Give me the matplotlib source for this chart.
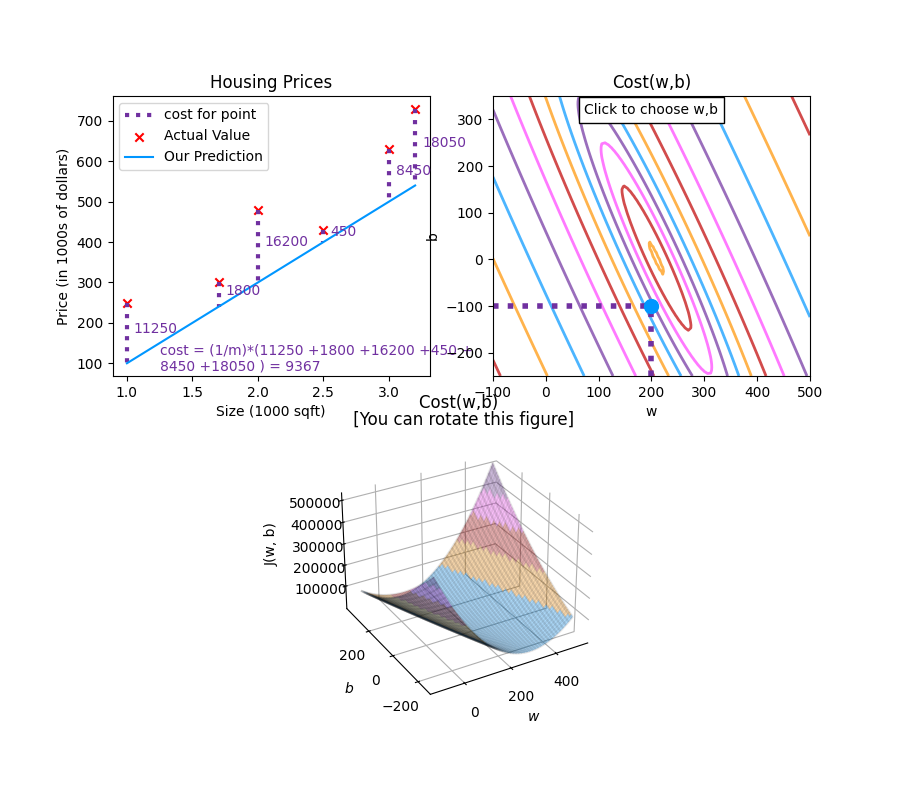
import numpy as np
import matplotlib
matplotlib.use("Agg")
import matplotlib.pyplot as plt
from matplotlib.colors import LinearSegmentedColormap
from matplotlib.gridspec import GridSpec

dlblue = '#0096ff'
dlorange = '#FF9300'
dldarkred = '#C00000'
dlmagenta = '#FF40FF'
dlpurple = '#7030A0'
dlcolors = [dlblue, dlorange, dldarkred, dlmagenta, dlpurple]
dlcm = LinearSegmentedColormap.from_list('dl_map', dlcolors, N=5)

x_train = [1.0, 1.7, 2.0, 2.5, 3.0, 3.2]
y_train = [250, 300, 480, 430, 630, 730]
y_pred = [100, 240, 300, 400, 500, 540]
point_costs = [11250, 1800, 16200, 450, 8450, 18050]
cost_text = "cost = (1/m)*(11250 +1800 +16200 +450 +\n8450 +18050 ) = 9367"
z_ticks = [100000, 200000, 300000, 400000, 500000]

w0 = 200
b0 = -100
w_range = [-100, 500]
b_range = [-250, 350]


def cost_grid():
    # the surface and contours are the cost of the training points over w,b
    x = np.array(x_train)
    y = np.array(y_train)
    w_space = np.linspace(w_range[0], w_range[1], 100)
    b_space = np.linspace(b_range[0], b_range[1], 100)
    tmp_b, tmp_w = np.meshgrid(b_space, w_space)
    z = np.zeros_like(tmp_b)
    for i in range(tmp_w.shape[0]):
        for j in range(tmp_w.shape[1]):
            z[i, j] = np.sum((tmp_w[i, j] * x + tmp_b[i, j] - y) ** 2) / (2 * len(x))
    return tmp_w, tmp_b, z


def plot_model(ax):
    label = 'cost for point'
    for x, y, p, c in zip(x_train, y_train, y_pred, point_costs):
        ax.vlines(x, y, p, lw=3, color=dlpurple, ls='dotted', label=label, zorder=2)
        label = ''
        ax.annotate(f'{c}', xy=(x, y + (p - y) / 2), xycoords='data', color=dlpurple,
                    xytext=(5, 0), textcoords='offset points')
    ax.text(0.15, 0.02, cost_text, transform=ax.transAxes, color=dlpurple)
    ax.scatter(x_train, y_train, marker='x', c='r', label="Actual Value", zorder=1)
    ax.plot(x_train, y_pred, c=dlblue, label="Our Prediction")
    ax.set_title("Housing Prices")
    ax.set_ylabel('Price (in 1000s of dollars)')
    ax.set_xlabel('Size (1000 sqft)')
    ax.legend()


def plot_contour(ax, tmp_w, tmp_b, z):
    ax.contour(tmp_w, tmp_b, np.log(z), levels=12, linewidths=2, alpha=0.7, colors=dlcolors)
    ax.set_title('Cost(w,b)')
    ax.set_xlabel('w', fontsize=10)
    ax.set_ylabel('b', fontsize=10)
    ax.set_xlim(w_range)
    ax.set_ylim(b_range)
    ax.scatter(w0, b0, s=100, color=dlblue, zorder=10)
    ax.hlines(b0, w_range[0], w0, lw=4, color=dlpurple, ls='dotted')
    ax.vlines(w0, b_range[0], b0, lw=4, color=dlpurple, ls='dotted')
    ax.text(0.5, 0.95, "Click to choose w,b", bbox=dict(facecolor='white', ec='black'),
            fontsize=10, transform=ax.transAxes, va='center', ha='center')


def plot_surface(ax, tmp_w, tmp_b, z):
    ax.plot_surface(tmp_w, tmp_b, z, cmap=dlcm, alpha=0.3, antialiased=True)
    ax.plot_wireframe(tmp_w, tmp_b, z, color='k', alpha=0.1)
    ax.set_xlabel("$w$")
    ax.set_ylabel("$b$")
    ax.zaxis.set_rotate_label(False)
    ax.xaxis.set_pane_color((1.0, 1.0, 1.0, 0.0))
    ax.yaxis.set_pane_color((1.0, 1.0, 1.0, 0.0))
    ax.zaxis.set_pane_color((1.0, 1.0, 1.0, 0.0))
    ax.set_zticks(z_ticks)
    ax.set_zlabel("J(w, b)\n\n", rotation=90)
    ax.set_title("Cost(w,b) \n [You can rotate this figure]", size=12, linespacing=0.95, y=1.081)
    ax.view_init(30, -120)


fig = plt.figure(figsize=(9, 8), dpi=100)
gs = GridSpec(2, 2, figure=fig)
ax0 = fig.add_subplot(gs[0, 0])
ax1 = fig.add_subplot(gs[0, 1])
ax2 = fig.add_subplot(gs[1, :], projection='3d')

tmp_w, tmp_b, z = cost_grid()
plot_model(ax0)
plot_contour(ax1, tmp_w, tmp_b, z)
plot_surface(ax2, tmp_w, tmp_b, z)

plt.savefig("out.png")
